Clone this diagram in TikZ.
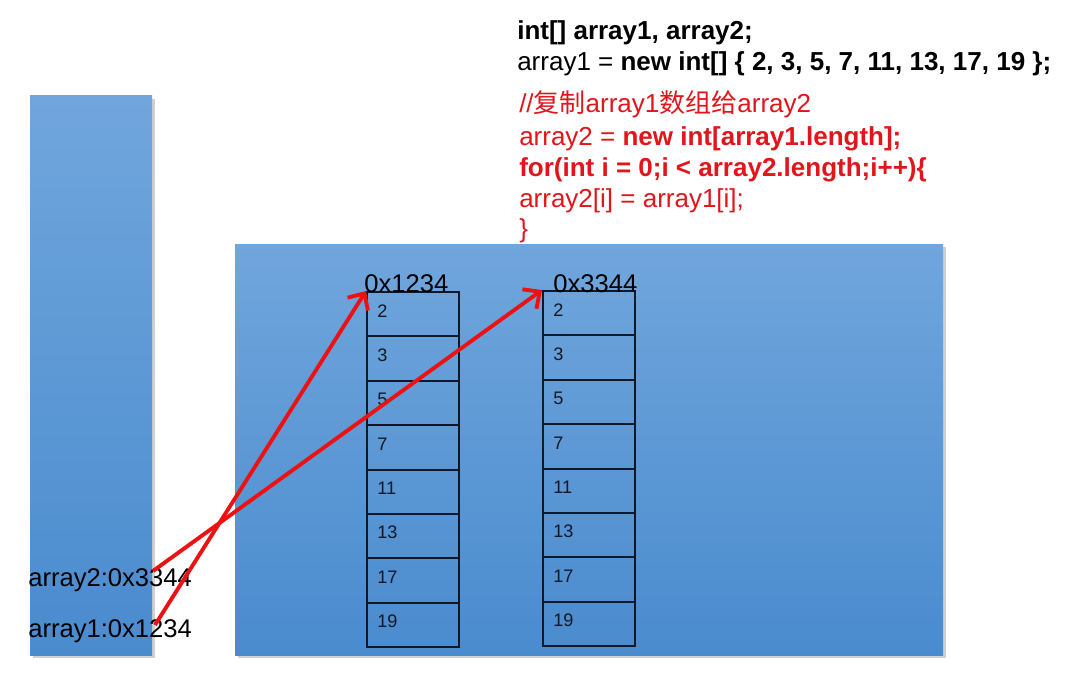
\documentclass[tikz,border=0pt]{standalone}
\usepackage{fontspec}
\setmainfont{Liberation Sans}
\newfontfamily\cjk{Noto Sans CJK SC}
\usetikzlibrary{arrows.meta,shadows}
\definecolor{memtop}{HTML}{70A6DC}
\definecolor{membot}{HTML}{4A8BCE}
\definecolor{codered}{HTML}{E3151B}
\definecolor{arrred}{HTML}{EE1111}
\definecolor{cellline}{HTML}{0E1828}
\tikzset{
  memblock/.style={top color=memtop, bottom color=membot, draw=none,
    drop shadow={shadow xshift=2.5pt, shadow yshift=-2.5pt, opacity=0.3, fill=black!60}},
  codetxt/.style={anchor=base west, inner sep=0pt, font=\fontsize{19.5pt}{23pt}\selectfont},
  redtxt/.style={codetxt, text=codered},
  addr/.style={anchor=base west, inner sep=0pt, font=\fontsize{19.2pt}{23pt}\selectfont, text=black},
  cell/.style={draw=cellline, line width=1.5pt, minimum width=69pt, minimum height=33.28pt, inner sep=0pt},
  num/.style={anchor=base west, inner sep=0pt, font=\fontsize{13.6pt}{16pt}\selectfont, text=cellline},
  ptr/.style={draw=arrred, line width=2.9pt, -{Straight Barb[length=9.5pt,width=18pt]}}
}
\begin{document}
\begin{tikzpicture}[x=0.75pt,y=-0.75pt]
\useasboundingbox (0,0) rectangle (1075,674);
\fill[white] (0,0) rectangle (1075,674);
% memory areas
\path[memblock] (30,96) rectangle (152,655);
\path[memblock] (235,244) rectangle (943,655);
% code
\node[codetxt] (c1) at (517,40) {\textbf{int[] array1, array2;}};
\node[codetxt] (c2) at (517,71) {array1 = \textbf{new int[] \{ 2, 3, 5, 7, 11, 13, 17, 19 \};}};
\node[redtxt] (c3) at (519,113) {//{\cjk 复制}array1{\cjk 数组给}array2};
\node[redtxt] (c4) at (519,145) {array2 = \textbf{new int[array1.length];}};
\node[redtxt] (c5) at (519,176) {\textbf{for(int i = 0;i < array2.length;i++)\{}};
\node[redtxt] (c6) at (519,207) {array2[i] = array1[i];};
\node[redtxt] (c7) at (519,237) {\}};
% arrays
\foreach \v [count=\i] in {2,3,5,7,11,13,17,19}{
  \node[cell] (a1c\i) at (413,{292+(\i-0.5)*44.375}) {};
  \node[num] (a1n\i) at (377,{292+(\i-1)*44.375+25}) {\v};
  \node[cell] (a2c\i) at (589,{291+(\i-0.5)*44.375}) {};
  \node[num] (a2n\i) at (553,{291+(\i-1)*44.375+25}) {\v};
}
\node[addr] (h1) at (364,292) {0x1234};
\node[addr] (h2) at (553,292) {0x3344};
% stack variables
\node[addr] (v2) at (28,586) {array2:0x3344};
\node[addr] (v1) at (28,637) {array1:0x1234};
\coordinate (s2) at (153,571);
\coordinate (s1) at (155,625);
\draw[ptr] (s1) -- (a1c1.north west);
\draw[ptr] (s2) -- (a2c1.north west);
\end{tikzpicture}
\end{document}
